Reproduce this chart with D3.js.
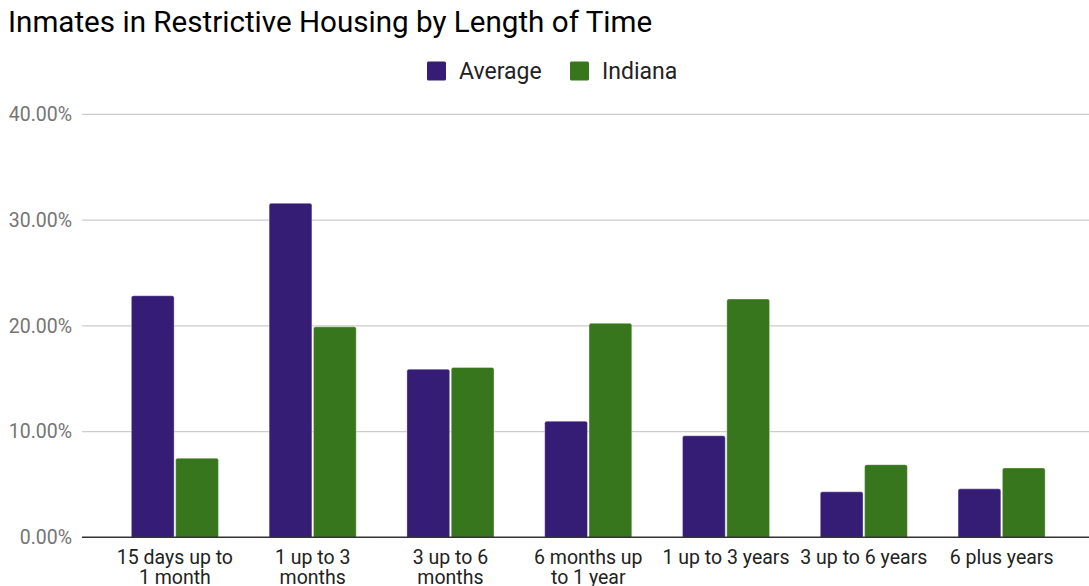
<!DOCTYPE html>
<html>
<head>
<meta charset="utf-8">
<script src="https://cdn.jsdelivr.net/npm/d3@7"></script>
<style>
  html, body { margin: 0; padding: 0; background: #fff; }
  svg { display: block; }
</style>
</head>
<body>
<svg id="chart" width="1089" height="586"></svg>
<script>
const title = "Inmates in Restrictive Housing by Length of Time";
const categories = ["15 days up to 1 month", "1 up to 3 months", "3 up to 6 months", "6 months up to 1 year", "1 up to 3 years", "3 up to 6 years", "6 plus years"];
const categoryLines = [["15 days up to", "1 month"], ["1 up to 3", "months"], ["3 up to 6", "months"], ["6 months up", "to 1 year"], ["1 up to 3 years"], ["3 up to 6 years"], ["6 plus years"]];
const seriesNames = ["Average", "Indiana"];
const average = [22.84, 31.58, 15.9, 10.98, 9.6, 4.3, 4.58];
const indiana = [7.48, 19.9, 16.06, 20.23, 22.53, 6.87, 6.56];
const yTicks = [0, 10, 20, 30, 40];
const colors = ["#351c75", "#38761d"];

const svg = d3.select("#chart");
const font = "Roboto, 'Noto Sans', Arial, sans-serif";

const x = d3.scaleBand().domain(categories).range([106, 1070.5]).paddingInner(0.368).paddingOuter(0.184);
const xs = d3.scaleBand().domain(seriesNames).range([0, x.bandwidth()]).paddingInner(0.035);
const y = d3.scaleLinear().domain([0, 40]).range([537.3, 114.3]);

// title
svg.append("text").attr("x", 8).attr("y", 32)
  .attr("font-family", font).attr("font-size", 29.6).attr("fill", "#000")
  .text(title);

// legend
const legend = [{name: "Average", sx: 427, tx: 459}, {name: "Indiana", sx: 570, tx: 602}];
legend.forEach((l, i) => {
  svg.append("rect").attr("x", l.sx).attr("y", 61.5).attr("width", 19).attr("height", 19)
    .attr("rx", 1.5).attr("fill", colors[i]);
  svg.append("text").attr("x", l.tx).attr("y", 78.5)
    .attr("font-family", font).attr("font-size", 23).attr("fill", "#222")
    .text(l.name);
});

// y axis labels
const yAxis = d3.axisLeft(y).tickValues(yTicks).tickSize(0).tickPadding(10)
  .tickFormat(d => d3.format(".2f")(d) + "%");
const gAxis = svg.append("g").attr("transform", "translate(82,0)").call(yAxis);
gAxis.select(".domain").remove();
gAxis.selectAll("text").attr("font-family", font).attr("font-size", 19.5).attr("fill", "#757575");

// gridlines
svg.append("g").selectAll("line").data(yTicks.filter(d => d !== 0)).join("line")
  .attr("x1", 82).attr("x2", 1089)
  .attr("y1", d => y(d)).attr("y2", d => y(d))
  .attr("stroke", "#cccccc").attr("stroke-width", 1.2);

// bars
const data = categories.map((c, i) => ({c, vals: [average[i], indiana[i]]}));
const groups = svg.append("g").selectAll("g").data(data).join("g")
  .attr("transform", d => `translate(${x(d.c)},0)`);
groups.selectAll("rect").data(d => d.vals.map((v, j) => ({v, s: seriesNames[j], j}))).join("rect")
  .attr("x", d => xs(d.s))
  .attr("width", xs.bandwidth())
  .attr("y", d => y(d.v))
  .attr("height", d => y(0) - y(d.v) + 2)
  .attr("rx", 2)
  .attr("fill", d => colors[d.j])
  .attr("stroke", "rgba(255,255,255,0.35)").attr("stroke-width", 1);

// cover bottom rounding below baseline
svg.append("rect").attr("x", 82).attr("y", y(0) + 0.5).attr("width", 1007).attr("height", 5).attr("fill", "#fff");

// baseline
svg.append("line").attr("x1", 82).attr("x2", 1089).attr("y1", y(0)).attr("y2", y(0))
  .attr("stroke", "#333").attr("stroke-width", 1.5);

// x labels
const xl = svg.append("g").selectAll("text").data(categories).join("text")
  .attr("font-family", font).attr("font-size", 19.5).attr("fill", "#222")
  .attr("text-anchor", "middle")
  .attr("x", d => x(d) + x.bandwidth() / 2)
  .attr("y", 564);
xl.each(function(d, i) {
  const t = d3.select(this);
  categoryLines[i].forEach((line, k) => {
    t.append("tspan").attr("x", x(d) + x.bandwidth() / 2).attr("dy", k === 0 ? 0 : 19.5).text(line);
  });
});
</script>
</body>
</html>
